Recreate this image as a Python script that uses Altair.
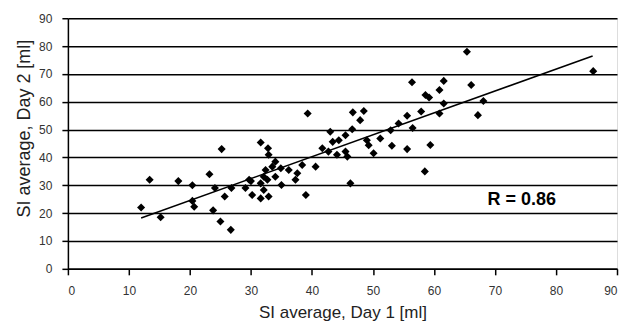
import altair as alt
import pandas as pd

day1 = [12, 13.4, 15.2, 18.1, 20.4, 20.4, 20.7, 23.2, 23.8, 24.1, 25.2, 25, 25.7, 26.7, 26.8,
        29.1, 30, 30.2, 29.7, 31.6, 32.9, 32.1, 31.6, 32.7, 32.1, 32.4, 33.5, 34, 34.9, 34,
        35, 31.6, 32.8, 32.9, 36.2, 37.6, 37.3, 38.4, 39, 40.6, 39.3, 41.7, 42.7, 43.4, 44.4,
        43, 44.1, 45.5, 45.8, 45.5, 46.6, 46.3, 46.7, 48.5, 47.9, 49, 49.3, 50.1, 51.2, 52.9,
        53.1, 54.2, 55.6, 55.6, 56.5, 56.4, 57.9, 58.5, 58.6, 59.2, 59.4, 60.9, 60.9, 61.6,
        61.6, 65.4, 66.1, 67.2, 68.1, 86.1]
day2 = [22, 32, 18.5, 31.5, 30, 24.4, 22.3, 34, 21, 29, 43, 17, 26, 14, 29,
        29, 31.5, 26.5, 32, 25.3, 26, 28.3, 30.7, 32, 33.1, 35.5, 36.7, 38.5, 36.1, 33.1,
        30.1, 45.4, 43.3, 41, 35.5, 34.3, 32, 37.3, 26.5, 36.7, 55.8, 43.3, 42.1, 45.6, 46.2,
        49.2, 41, 42.1, 40.3, 48, 50.1, 30.7, 56.2, 56.7, 53.4, 46.2, 44.4, 41.5, 46.8, 49.8,
        44.2, 52.2, 55, 43, 50.6, 67, 56.5, 35, 62.4, 61.5, 44.5, 64.2, 55.8, 59.4,
        67.5, 78, 66, 55.2, 60.3, 71]

x_ticks = [0, 10, 20, 30, 40, 50, 60, 70, 80, 90]
y_ticks = [0, 10, 20, 30, 40, 50, 60, 70, 80, 90]
r_label = ["R = 0.86"]
r_pos_x = [74.4]
r_pos_y = [24.7]

df = pd.DataFrame({"day1": day1, "day2": day2})
lab = pd.DataFrame({"t": r_label, "x": r_pos_x, "y": r_pos_y})

FONT = "Liberation Sans"

xenc = alt.X("day1:Q", scale=alt.Scale(domain=[0, 90], nice=False),
             axis=alt.Axis(values=x_ticks, tickCount=10, labelOverlap=False,
                           title="SI average, Day 1 [ml]", grid=False,
                           domainColor="black", domainWidth=1.5, tickColor="black",
                           tickWidth=1.5, tickSize=6, labelPadding=11,
                           labelFont=FONT, labelFontSize=12, labelColor="#333",
                           titleFont=FONT, titleFontSize=17, titleFontWeight="normal",
                           titleColor="#222", titlePadding=8))
yenc = alt.Y("day2:Q", scale=alt.Scale(domain=[0, 90], nice=False),
             axis=alt.Axis(values=y_ticks, tickCount=10, labelOverlap=False,
                           title="SI average, Day 2 [ml]", grid=True,
                           gridColor="black", gridWidth=1.5, gridOpacity=1,
                           domainColor="black", domainWidth=1.5, tickColor="black",
                           tickWidth=1.5, tickSize=6, labelPadding=10,
                           labelFont=FONT, labelFontSize=12, labelColor="#333",
                           titleFont=FONT, titleFontSize=18, titleFontWeight="normal",
                           titleColor="#222", titlePadding=5, titleY=110))

points = alt.Chart(df).mark_point(shape="diamond", filled=True, color="black",
                                   size=65, opacity=1).encode(x=xenc, y=yenc)

fit = alt.Chart(df).transform_regression("day1", "day2", extent=[12, 86]).mark_line(
    color="black", strokeWidth=1.5).encode(x="day1:Q", y="day2:Q")

text = alt.Chart(lab).mark_text(font=FONT, fontSize=18, fontWeight="bold",
                                color="black").encode(
    x=alt.X("x:Q"), y=alt.Y("y:Q"), text="t:N")

chart = (points + fit + text).properties(
    width=550, height=251,
    padding={"left": 7, "top": 4, "right": 5, "bottom": 2}).configure_view(
    stroke="black", strokeWidth=1.5).configure(background="white")

chart.save("out.html", embed_options={"renderer": "svg", "actions": False})
